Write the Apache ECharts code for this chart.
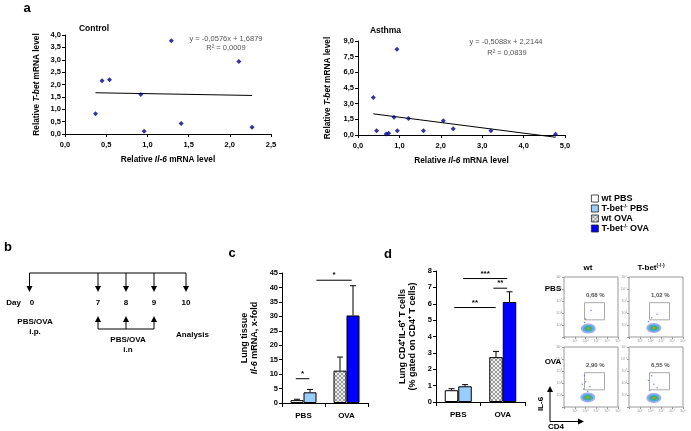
<!DOCTYPE html>
<html><head><meta charset="utf-8">
<script src="https://cdn.jsdelivr.net/npm/echarts@6/dist/echarts.min.js"></script>
<style>html,body{margin:0;padding:0;background:#fff}#c{width:691px;height:431px}</style>
</head><body><div id="c"></div>
<script>
// ---------------- DATA ----------------
// panel a: Control
const controlX = [0.37, 0.45, 0.54, 0.92, 0.96, 1.29, 1.41, 2.11, 2.27];
const controlY = [0.82, 2.15, 2.19, 1.60, 0.11, 3.77, 0.42, 2.93, 0.27];
const controlFit = [-0.0576, 1.6879]; // slope, intercept
const controlEq = ['y = -0,0576x + 1,6879', 'R² = 0,0009'];
// panel a: Asthma
const asthmaX = [0.37, 0.45, 0.68, 0.74, 0.87, 0.94, 0.95, 1.22, 1.58, 2.06, 2.30, 3.21, 4.77];
const asthmaY = [3.60, 0.41, 0.10, 0.16, 1.69, 8.20, 0.41, 1.59, 0.41, 1.37, 0.60, 0.41, 0.06];
const asthmaFit = [-0.5088, 2.2144];
const asthmaEq = ['y = -0,5088x + 2,2144', 'R² = 0,0839'];
// panel b
const days = ['0', '7', '8', '9', '10'];
// panel c / d
const categories = ['PBS', 'OVA'];
const legendNames = ['wt PBS', 'T-bet-/- PBS', 'wt OVA', 'T-bet-/- OVA'];
const cWt = [1.0, 11.2], cWtErr = [0.3, 4.7];
const cTb = [3.7, 30.3], cTbErr = [1.0, 10.3];
const dWt = [0.72, 2.74], dWtErr = [0.09, 0.35];
const dTb = [0.96, 6.10], dTbErr = [0.10, 0.63];
// significance: [from (category units), to, y value]
const cSig = [[-0.18, 0.135, 8.4], [0.30, 1.12, 42.5]];
const cSigLbl = ['*', '*'];
const dSig = [[-0.09, 0.84, 5.77], [0.11, 1.10, 7.54], [0.79, 1.10, 6.95]];
const dSigLbl = ['**', '***', '**'];
// flow plots (log decades)
const flowTicks = ['', '10¹', '10²', '10³', '10⁴', '10⁵'];
const flowBlob = [[2.25, 0.70], [2.30, 0.75], [2.20, 0.80], [2.30, 0.75]];
const flowGate = [[1.9, 1.43], [3.75, 2.86]];
const flowPct = ['0,68 %', '1,02 %', '2,90 %', '6,55 %'];
const flowSpray = [
  [[2.0, 1.5], [2.5, 2.2], [1.9, 1.2]],
  [[2.1, 1.6], [2.6, 1.9], [1.8, 1.3]],
  [[1.8, 1.5], [2.0, 2.1], [2.4, 1.7], [1.9, 2.6], [2.2, 1.3], [1.7, 1.9]],
  [[1.9, 1.4], [2.3, 1.9], [2.6, 1.6], [1.8, 2.2], [2.1, 2.6]]
];

// ---------------- STYLE ----------------
const FONT = '"Liberation Sans", Arial, sans-serif';
const comma1 = v => v.toFixed(1).replace('.', ',');
const richAxis = {
  b: {fontFamily: FONT, fontWeight: 'bold', fontSize: 8.3, color: '#000'},
  i: {fontFamily: FONT, fontWeight: 'bold', fontStyle: 'italic', fontSize: 8.3, color: '#000'}
};
const richBarAxis = {
  b: {fontFamily: FONT, fontWeight: 'bold', fontSize: 9, color: '#000', lineHeight: 10},
  i: {fontFamily: FONT, fontWeight: 'bold', fontStyle: 'italic', fontSize: 9, color: '#000', lineHeight: 10}
};
const lblStyle = {fontFamily: FONT, fontWeight: 'bold', fontSize: 7.5, color: '#000'};

// hatch pattern
const pc = document.createElement('canvas'); pc.width = 4; pc.height = 4;
const px = pc.getContext('2d');
px.fillStyle = '#f0f0f0'; px.fillRect(0, 0, 4, 4);
px.fillStyle = '#9a9a9a';
[[0,0],[1,1],[2,2],[3,3],[3,0],[2,1],[1,2],[0,3]].forEach(p => px.fillRect(p[0], p[1], 1, 1));
const hatch = {image: pc, repeat: 'repeat'};

const colWtPBS = '#ffffff', colTbPBS = '#99ccff', colTbOVA = '#0000ff';

function valAxis(grid, max, interval, name, gap, isX) {
  return {
    type: 'value', gridIndex: grid, min: 0, max: max, interval: interval,
    axisLine: {show: true, onZero: false, lineStyle: {color: '#000', width: 1}},
    axisTick: {show: true, length: 3, lineStyle: {color: '#000'}},
    splitLine: {show: false},
    axisLabel: Object.assign({formatter: v => comma1(v), margin: isX ? 7 : 4}, lblStyle),
    name: name, nameLocation: 'middle', nameGap: gap,
    nameTextStyle: {rich: richAxis}
  };
}
function barY(grid, max, interval, name, gap) {
  return {
    type: 'value', gridIndex: grid, min: 0, max: max, interval: interval,
    axisLine: {show: true, lineStyle: {color: '#000'}},
    axisTick: {show: true, length: 3, lineStyle: {color: '#000'}},
    splitLine: {show: false},
    axisLabel: Object.assign({margin: 4}, lblStyle),
    name: name, nameLocation: 'middle', nameGap: gap,
    nameTextStyle: {rich: richBarAxis, lineHeight: 10}
  };
}
function barX(grid) {
  return {
    type: 'category', gridIndex: grid, data: categories,
    axisLine: {show: true, lineStyle: {color: '#000'}},
    axisTick: {show: true, length: 4, alignWithLabel: false, lineStyle: {color: '#000'}},
    axisLabel: Object.assign({margin: 9}, lblStyle, {fontSize: 8})
  };
}
function flowAxis(grid, isX) {
  return {
    type: 'value', gridIndex: grid, min: 0, max: 5, interval: 1,
    axisLine: {show: false},
    axisTick: {show: true, length: 2, lineStyle: {color: '#999'}},
    splitLine: {show: false},
    axisLabel: {fontSize: 4, color: '#999', margin: 2, formatter: v => flowTicks[Math.round(v)]}
  };
}

function errRender(bw) {
  return function (params, api) {
    const m = api.value(1), e = api.value(2), side = api.value(3);
    const b = api.coord([api.value(0), m]), t = api.coord([api.value(0), m + e]);
    const x = b[0] + (side === 0 ? -bw / 2 : bw / 2);
    return {type: 'group', children: [
      {type: 'line', shape: {x1: x, y1: b[1], x2: x, y2: t[1]}, style: {stroke: '#000', lineWidth: 1}},
      {type: 'line', shape: {x1: x - 3, y1: t[1], x2: x + 3, y2: t[1]}, style: {stroke: '#000', lineWidth: 1}}
    ]};
  };
}
function sigRender(labels) {
  return function (params, api) {
    const y = api.value(1);
    const p0 = api.coord([0, y]), p1 = api.coord([1, y]);
    const w = p1[0] - p0[0];
    const xa = p0[0] + api.value(2) * w, xb = p0[0] + api.value(3) * w;
    return {type: 'group', children: [
      {type: 'line', shape: {x1: xa, y1: p0[1], x2: xb, y2: p0[1]}, style: {stroke: '#000', lineWidth: 1}},
      {type: 'text', style: {text: labels[params.dataIndex], x: (xa + xb) / 2, y: p0[1] - 1,
        align: 'center', verticalAlign: 'bottom', font: 'bold 8px ' + FONT, fill: '#000'}}
    ]};
  };
}
const errData = (wt, wtE, tb, tbE) => [
  [0, wt[0], wtE[0], 0], [1, wt[1], wtE[1], 0], [0, tb[0], tbE[0], 1], [1, tb[1], tbE[1], 1]];
const sigData = arr => arr.map(s => [0, s[2], s[0], s[1]]);

function barSeries(ax, wt, tb, bw) {
  const common = {type: 'bar', xAxisIndex: ax, yAxisIndex: ax, barWidth: bw, barGap: '0%'};
  return [
    Object.assign({}, common, {name: legendNames[0], stack: 's' + ax + 'w', data: [wt[0], '-'],
      itemStyle: {color: colWtPBS, borderColor: '#000', borderWidth: 1}}),
    Object.assign({}, common, {name: legendNames[2], stack: 's' + ax + 'w', data: ['-', wt[1]],
      itemStyle: {color: hatch, borderColor: '#000', borderWidth: 1}}),
    Object.assign({}, common, {name: legendNames[1], stack: 's' + ax + 't', data: [tb[0], '-'],
      itemStyle: {color: colTbPBS, borderColor: '#000', borderWidth: 1}}),
    Object.assign({}, common, {name: legendNames[3], stack: 's' + ax + 't', data: ['-', tb[1]],
      itemStyle: {color: colTbOVA, borderColor: '#000', borderWidth: 1}})
  ];
}

function fitLine(xs, fit) {
  const a = Math.min(...xs), b = Math.max(...xs);
  return [[a, fit[0] * a + fit[1]], [b, fit[0] * b + fit[1]]];
}

// flow plot layout
const flowGrids = [
  {left: 564, top: 277, width: 54, height: 60},
  {left: 629, top: 277, width: 54, height: 60},
  {left: 564, top: 347, width: 54, height: 60},
  {left: 629, top: 347, width: 54, height: 60}
];
const blobLayers = [
  {size: [15, 10], color: 'rgba(40,70,220,0.55)'},
  {size: [11, 7], color: 'rgba(30,170,210,0.85)'},
  {size: [7, 4.5], color: 'rgba(60,180,60,0.9)'},
  {size: [3, 2], color: 'rgba(240,150,20,0.9)'}
];
const flowSeries = [];
flowBlob.forEach((c, i) => {
  const ax = 4 + i;
  flowSeries.push({
    type: 'scatter', xAxisIndex: ax, yAxisIndex: ax, silent: true,
    symbol: 'circle',
    data: flowSpray[i].map(p => ({value: p, symbolSize: 1.5, itemStyle: {color: '#4a6ad8'}}))
      .concat(blobLayers.map(l => ({value: c, symbolSize: l.size, itemStyle: {color: l.color}}))),
    markArea: {silent: true, itemStyle: {color: 'rgba(0,0,0,0)', borderColor: '#aaa', borderWidth: 1},
      data: [[{coord: flowGate[0]}, {coord: flowGate[1]}]]}
  });
  flowSeries.push({
    type: 'scatter', xAxisIndex: ax, yAxisIndex: ax, silent: true, symbolSize: 0,
    data: [{value: [2.9, 3.5], name: flowPct[i]}],
    label: {show: true, position: 'inside', formatter: p => p.name,
      fontFamily: FONT, fontWeight: 'bold', fontSize: 6, color: '#222'}
  });
});

// ---------------- GRAPHIC ----------------
const G = [];
function txt(x, y, text, size, extra) {
  G.push(Object.assign({type: 'text', x: x, y: y, silent: true, style: Object.assign({
    text: text, font: 'bold ' + size + 'px ' + FONT, fill: '#000', align: 'center', verticalAlign: 'middle'
  }, extra || {})}));
}
function line(x1, y1, x2, y2, color) {
  G.push({type: 'line', silent: true, shape: {x1, y1, x2, y2}, style: {stroke: color || '#000', lineWidth: 1}});
}
function tri(pts) {
  G.push({type: 'polygon', silent: true, shape: {points: pts}, style: {fill: '#000'}});
}
// panel letters
txt(27, 8, 'a', 13); txt(8, 247, 'b', 13); txt(232, 253, 'c', 13); txt(388, 254, 'd', 13);
// panel a titles and equations
txt(94, 29, 'Control', 8.5); txt(385.5, 30.5, 'Asthma', 8.5);
txt(226, 39, controlEq[0], 7.5, {font: '7.5px ' + FONT, fill: '#555'});
txt(226, 48, controlEq[1], 7.5, {font: '7.5px ' + FONT, fill: '#555'});
txt(506, 42.3, asthmaEq[0], 7.5, {font: '7.5px ' + FONT, fill: '#555'});
txt(507, 53.3, asthmaEq[1], 7.5, {font: '7.5px ' + FONT, fill: '#555'});
// panel b timeline (schematic layout)
const bx = [29.5, 98, 126, 154, 186];
line(bx[0], 273, bx[4], 273);
bx.forEach(x => { line(x, 273, x, 287); tri([[x - 3, 286], [x + 3, 286], [x, 292]]); });
txt(13.5, 303, 'Day', 8);
days.forEach((d, i) => txt(i === 0 ? 32 : bx[i], 303, d, 8));
[1, 2, 3].forEach(i => { line(bx[i], 329, bx[i], 321); tri([[bx[i] - 3, 322], [bx[i] + 3, 322], [bx[i], 316]]); });
line(bx[1], 329, bx[3], 329);
txt(35, 322, 'PBS/OVA', 8); txt(35, 332, 'i.p.', 8);
txt(128, 340, 'PBS/OVA', 8); txt(128, 349.5, 'i.n', 8);
txt(192.5, 335, 'Analysis', 8);
// flow headers
txt(588, 268, 'wt', 8);
G.push({type: 'text', x: 651, y: 268, silent: true, style: {
  text: '{n|T-bet}{s|(-/-)}', align: 'center', verticalAlign: 'middle',
  rich: {n: {font: 'bold 8px ' + FONT, fill: '#000', lineHeight: 10},
         s: {font: 'bold 5px ' + FONT, fill: '#000', verticalAlign: 'top', lineHeight: 5}}}});
txt(553, 289, 'PBS', 8); txt(553, 362, 'OVA', 8);
// IL-6 / CD4 arrows
line(550, 421.5, 550, 391); tri([[547, 392], [553, 392], [550, 386]]);
line(550, 421.5, 579, 421.5); tri([[578, 418.5], [578, 424.5], [584, 421.5]]);
G.push({type: 'text', x: 540.5, y: 404, rotation: Math.PI / 2, silent: true,
  style: {text: 'IL-6', font: 'bold 8px ' + FONT, fill: '#000', align: 'center', verticalAlign: 'middle'}});
txt(556, 427, 'CD4', 8);

// ---------------- OPTION ----------------
const legendRich = {
  n: {fontFamily: FONT, fontWeight: 'bold', fontSize: 9, color: '#000', lineHeight: 9},
  s: {fontFamily: FONT, fontWeight: 'bold', fontSize: 5, color: '#000', verticalAlign: 'top', lineHeight: 5}
};
const option = {
  animation: false,
  textStyle: {fontFamily: FONT},
  grid: [
    {left: 65, top: 35, width: 206, height: 99},
    {left: 358, top: 41, width: 207, height: 94},
    {left: 282, top: 273, width: 86, height: 130},
    {left: 436, top: 271, width: 89, height: 131}
  ].concat(flowGrids.map(g => Object.assign({show: true, borderColor: '#999', borderWidth: 1}, g))),
  xAxis: [
    valAxis(0, 2.5, 0.5, '{b|Relative }{i|Il-6}{b| mRNA level}', 22, true),
    valAxis(1, 5, 1, '{b|Relative }{i|Il-6}{b| mRNA level}', 22, true),
    barX(2), barX(3)
  ].concat([4, 5, 6, 7].map(g => flowAxis(g, true))),
  yAxis: [
    valAxis(0, 4, 0.5, '{b|Relative }{i|T-bet}{b| mRNA level}', 24, false),
    valAxis(1, 9, 1.5, '{b|Relative }{i|T-bet}{b| mRNA level}', 26, false),
    barY(2, 45, 5, '{b|Lung tissue}\n{i|Il-6}{b| mRNA, x-fold}', 22),
    barY(3, 8, 1, '{b|Lung CD4⁺IL-6⁺ T cells}\n{b|(% gated on CD4⁺ T cells)}', 18)
  ].concat([4, 5, 6, 7].map(g => flowAxis(g, false))),
  legend: {
    orient: 'vertical', left: 591, top: 194, itemWidth: 7, itemHeight: 7, itemGap: 1, padding: 0,
    icon: 'rect', data: legendNames, selectedMode: false,
    itemStyle: {borderWidth: 0.8, borderColor: '#222'},
    formatter: n => n.indexOf('-/-') >= 0
      ? '{n|' + n.split('-/-')[0] + '}{s|-/-}{n|' + n.split('-/-')[1] + '}' : '{n|' + n + '}',
    textStyle: {rich: legendRich, padding: [0, 0, 0, -2]}
  },
  series: [
    {type: 'scatter', xAxisIndex: 0, yAxisIndex: 0, symbol: 'diamond', symbolSize: 5,
      itemStyle: {color: '#00008b'}, data: controlX.map((x, i) => [x, controlY[i]]), z: 3},
    {type: 'line', xAxisIndex: 0, yAxisIndex: 0, showSymbol: false, symbol: 'none', clip: false,
      lineStyle: {color: '#000', width: 1}, data: fitLine(controlX, controlFit)},
    {type: 'scatter', xAxisIndex: 1, yAxisIndex: 1, symbol: 'diamond', symbolSize: 5,
      itemStyle: {color: '#00008b'}, data: asthmaX.map((x, i) => [x, asthmaY[i]]), z: 3},
    {type: 'line', xAxisIndex: 1, yAxisIndex: 1, showSymbol: false, symbol: 'none', clip: false,
      lineStyle: {color: '#000', width: 1}, data: fitLine(asthmaX, asthmaFit)}
  ].concat(barSeries(2, cWt, cTb, 13), barSeries(3, dWt, dTb, 13.5), [
    {type: 'custom', xAxisIndex: 2, yAxisIndex: 2, renderItem: errRender(13), encode: {x: 0, y: 1},
      data: errData(cWt, cWtErr, cTb, cTbErr), z: 5},
    {type: 'custom', xAxisIndex: 3, yAxisIndex: 3, renderItem: errRender(13.5), encode: {x: 0, y: 1},
      data: errData(dWt, dWtErr, dTb, dTbErr), z: 5},
    {type: 'custom', xAxisIndex: 2, yAxisIndex: 2, renderItem: sigRender(cSigLbl), encode: {x: 0, y: 1},
      data: sigData(cSig), z: 5},
    {type: 'custom', xAxisIndex: 3, yAxisIndex: 3, renderItem: sigRender(dSigLbl), encode: {x: 0, y: 1},
      data: sigData(dSig), z: 5}
  ], flowSeries),
  graphic: G
};
const chart = echarts.init(document.getElementById('c'), null, {renderer: 'canvas'});
chart.setOption(option);
</script></body></html>
